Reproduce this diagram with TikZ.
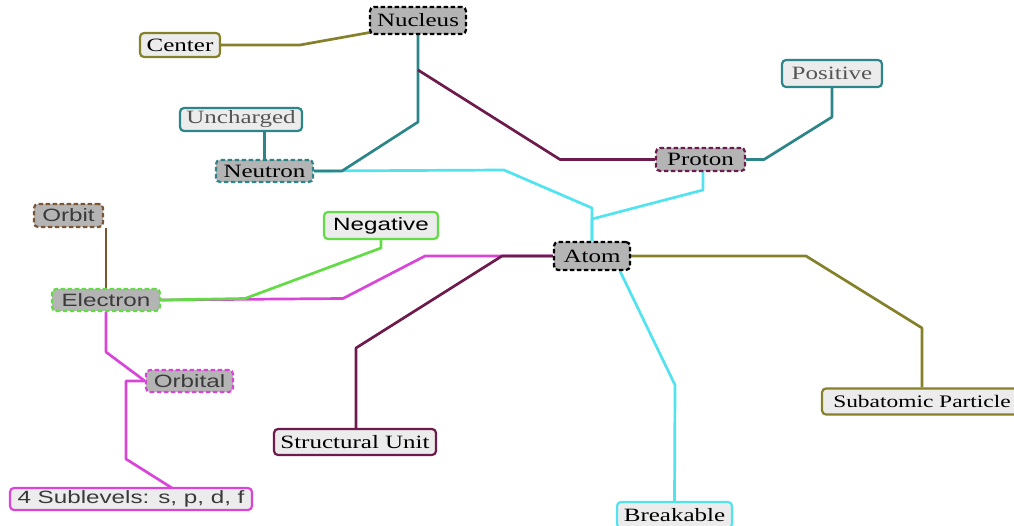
\documentclass[tikz,border=0pt]{standalone}
\usepackage{fontspec}
\setmainfont{Liberation Serif}[FakeStretch=1.33]
\setsansfont{Liberation Sans}[FakeStretch=1.36]
\usetikzlibrary{backgrounds,calc}

% palette
\definecolor{boxgray}{HTML}{B4B4B4}
\definecolor{boxlight}{HTML}{ECECEC}
\definecolor{olivec}{HTML}{84812A}
\definecolor{tealc}{HTML}{2B8589}
\definecolor{maroonc}{HTML}{6D1A4C}
\definecolor{cyanc}{HTML}{52E4EE}
\definecolor{greenc}{HTML}{62DC45}
\definecolor{magc}{HTML}{D945D8}
\definecolor{brownc}{HTML}{7C5532}
\definecolor{softtext}{HTML}{555555}
\definecolor{darktext}{HTML}{3A3A3A}

\tikzset{
  box/.style={draw, line width=2.2pt, rounded corners=4pt, inner sep=0pt, align=center},
  mainbox/.style={box, fill=boxgray, dash pattern=on 4.5pt off 2.5pt},
  leafbox/.style={box, fill=boxlight},
  serif/.style={font=\fontsize{18.8}{20}\selectfont},
  sans/.style={font=\sffamily\fontsize{17.8}{20}\selectfont},
  link/.style={line width=2.7pt, line join=round},
}

\begin{document}
\begin{tikzpicture}[x=1pt, y=-1pt]
\useasboundingbox (0,0) rectangle (1014,526);
\begin{scope}
\clip (0,0) rectangle (1014,526);

% concept nodes
\node[mainbox, serif, draw=black, minimum width=96, minimum height=27] (nucleus) at (418,20.5) {Nucleus};
\node[leafbox, serif, draw=olivec, minimum width=80, minimum height=24] (center) at (180,45) {Center};
\node[leafbox, serif, draw=tealc, text=softtext, minimum width=122, minimum height=23] (uncharged) at (241,119.5) {Uncharged};
\node[mainbox, serif, draw=tealc, minimum width=97, minimum height=22] (neutron) at (264.5,171) {Neutron};
\node[leafbox, serif, draw=tealc, text=softtext, minimum width=100, minimum height=27] (positive) at (832,73.5) {Positive};
\node[mainbox, serif, draw=maroonc, minimum width=89, minimum height=23] (proton) at (700.5,159.5) {Proton};
\node[mainbox, serif, draw=black, minimum width=76, minimum height=28] (atom) at (592,256) {Atom};
\node[leafbox, sans, draw=greenc, text=black, minimum width=114, minimum height=27] (negative) at (381,225.5) {Negative};
\node[mainbox, sans, draw=brownc, text=darktext, minimum width=69, minimum height=23] (orbit) at (68.5,215.5) {Orbit};
\node[mainbox, sans, draw=greenc, text=darktext, minimum width=108, minimum height=22] (electron) at (106,300) {Electron};
\node[mainbox, sans, draw=magc, text=darktext, minimum width=87, minimum height=22] (orbital) at (189.5,381) {Orbital};
\node[leafbox, sans, draw=magc, text=darktext, minimum width=242, minimum height=22] (sublevels) at (131,499) {4 Sublevels: s, p, d, f};
\node[leafbox, serif, draw=maroonc, minimum width=162, minimum height=26] (structural) at (355,442) {Structural Unit};
\node[leafbox, serif, draw=cyanc, minimum width=115, minimum height=26] (breakable) at (674.5,515) {Breakable};
\node[leafbox, font=\fontsize{17.6}{20}\selectfont, draw=olivec, minimum width=200, minimum height=26] (subatomic) at (922,401.5) {Subatomic Particle};

\coordinate (nucbranch) at (418,70);

% connectors, kept behind the boxes
\begin{pgfonlayer}{background}
  \draw[link, cyanc] (atom.north) -- (592,208) -- (504,170) -- (neutron.east);
  \draw[link, cyanc] (atom.north) -- (592,219) -- (703,190) -- (703,171);
  \draw[link, cyanc] ($(atom.south)+(28,0)$) -- (675,385) -- (breakable.north);
  \draw[link, olivec] (center.east) -- (300,45) -- ($(nucleus.south west)+(3,-3)$);
  \draw[link, tealc] (nucleus.south) -- (418,122) -- (342,171) -- (neutron.east);
  \draw[link, tealc] (neutron.north) -- (neutron.north |- uncharged.south);
  \draw[link, maroonc] (nucbranch) -- (560,159.5) -- (proton.west);
  \draw[link, tealc] (proton.east) -- (764,159.5) -- (832,117) -- (positive.south);
  \draw[link, magc] (atom.west) -- (425,256) -- (343,298.5) -- (electron.east);
  \draw[link, greenc] (electron.east) -- (245,298.5) -- (381,248) -- (negative.south);
  \draw[link, maroonc] (atom.west) -- (502,256) -- (356,348) -- (356,429);
  \draw[link, olivec] (atom.east) -- (806,256) -- (922,328) -- (subatomic.north);
  \draw[link, brownc] (orbit.south east -| electron.north) -- (electron.north);
  \draw[link, magc] (electron.south) -- (106,352) -- (orbital.west);
  \draw[link, magc] (orbital.west) -- (126,381) -- (126,459) -- (172,488);
\end{pgfonlayer}
\end{scope}
\end{tikzpicture}
\end{document}
